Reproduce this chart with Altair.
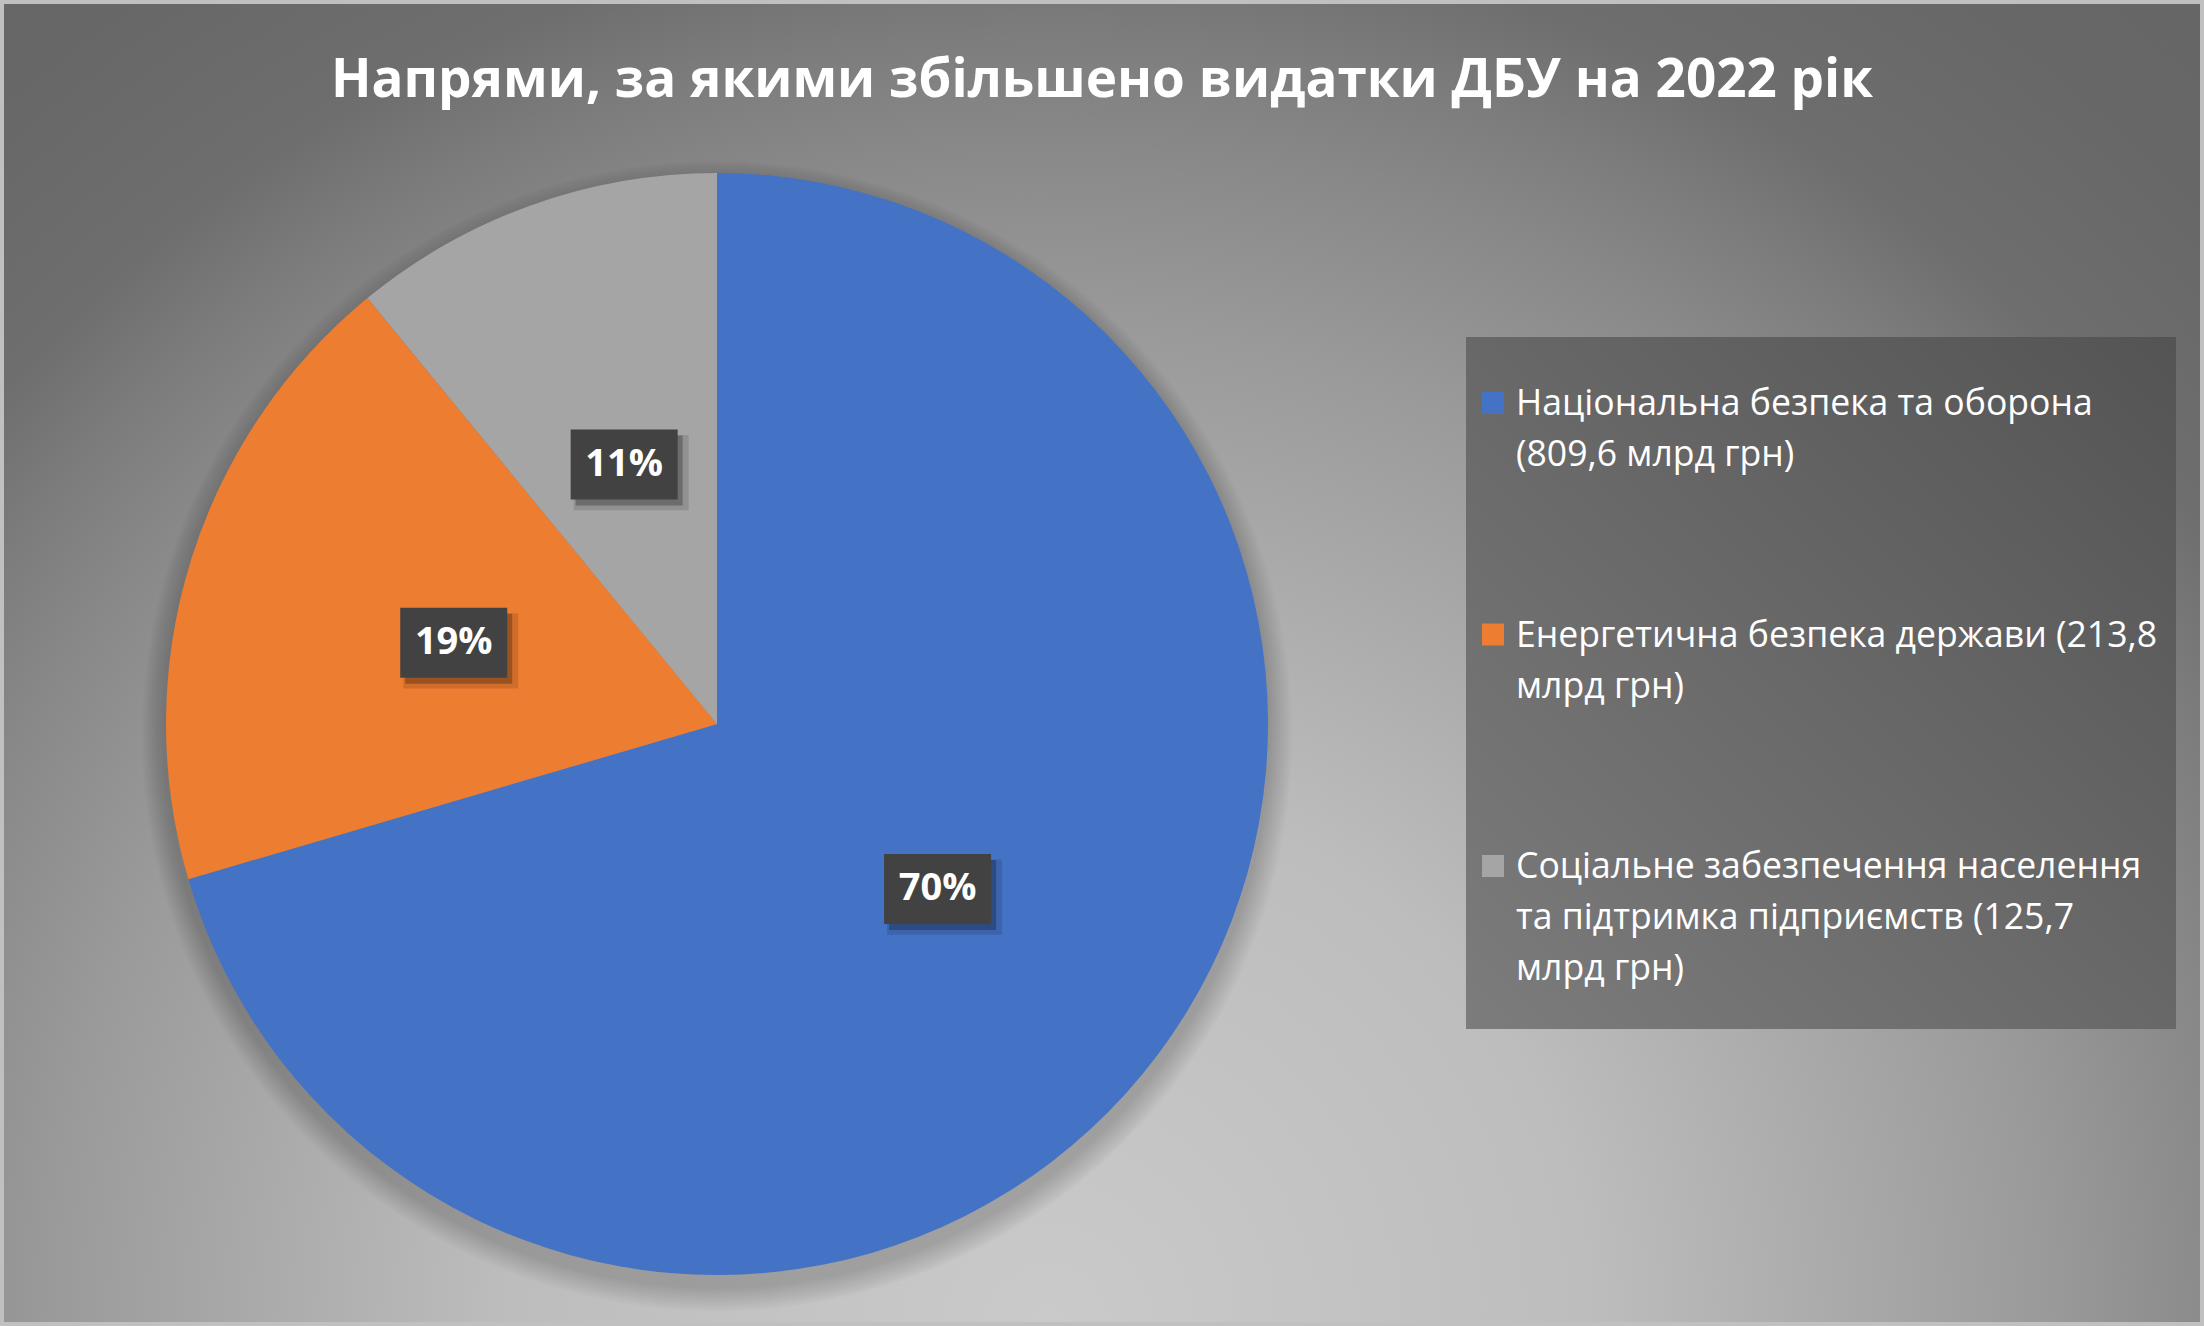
import math
import altair as alt
import pandas as pd

W, H = 2204, 1326

# ---- data ----
categories = [
    "Національна безпека та оборона",
    "Енергетична безпека держави",
    "Соціальне забезпечення населення та підтримка підприємств",
]
values = [809.6, 213.8, 125.7]
legend_labels = [
    "Національна безпека та оборона\n(809,6 млрд грн)",
    "Енергетична безпека держави (213,8\nмлрд грн)",
    "Соціальне забезпечення населення\nта підтримка підприємств (125,7\nмлрд грн)",
]
colors = ["#4472C4", "#ED7D31", "#A5A5A5"]
title_text = "Напрями, за якими збільшено видатки ДБУ на 2022 рік"

df = pd.DataFrame({
    "cat": categories,
    "value": values,
    "idx": list(range(len(categories))),
    "legend": legend_labels,
})

base = alt.Chart(df)
one = alt.Chart(pd.DataFrame({"k": [0]}))

FONT = "Open Sans"
R = 551
xs = alt.Scale(domain=[-1, 1], range=[166, 1268])
ys = alt.Scale(domain=[-1, 1], range=[1275, 173])
color_scale = alt.Scale(domain=categories, range=colors)

cx = alt.X(datum=0, type="quantitative", scale=xs, axis=None)
cy = alt.Y(datum=0, type="quantitative", scale=ys, axis=None)

# ---- background (radial gradient) ----
bg_fill = {
    "gradient": "radial",
    "x1": 0.48, "y1": 1.0, "r1": 0,
    "x2": 0.48, "y2": 1.0, "r2": 1,
    "stops": [
        {"offset": 0.0, "color": "#cacaca"},
        {"offset": 0.2, "color": "#bdbdbd"},
        {"offset": 0.25, "color": "#b3b3b3"},
        {"offset": 0.37, "color": "#9a9a9a"},
        {"offset": 0.44, "color": "#888888"},
        {"offset": 0.48, "color": "#7c7c7c"},
        {"offset": 0.52, "color": "#6e6e6e"},
        {"offset": 0.6, "color": "#676767"},
        {"offset": 1.0, "color": "#606060"},
    ],
}
bg = one.mark_rect(clip=True, fill=bg_fill).encode(
    x=alt.value(0), x2=alt.value(W), y=alt.value(H - 2700), y2=alt.value(H)
)

# ---- pie shadow (soft, offset downward) ----
shadows = []
for k in range(24, 0, -2):
    shadows.append(
        one.mark_arc(radius=R + k, theta=0, theta2=2 * math.pi, color="black",
                     opacity=0.016, yOffset=12)
        .encode(x=cx, y=cy)
    )

# ---- pie ----
pie = base.mark_arc(radius=R).encode(
    theta=alt.Theta("value:Q", stack=True),
    color=alt.Color("cat:N", scale=color_scale, legend=None),
    order=alt.Order("idx:Q"),
    x=cx,
    y=cy,
)

# ---- data labels ----
lab = (
    base.transform_joinaggregate(total="sum(value)")
    .transform_window(cum="sum(value)", sort=[alt.SortField("idx")], frame=[None, 0])
    .transform_calculate(
        mid="(datum.cum - datum.value / 2) / datum.total",
        pct="format(datum.value / datum.total * 100, '.0f') + '%'",
    )
    .transform_calculate(
        lx="0.5 * sin(2 * PI * datum.mid)",
        ly="0.5 * cos(2 * PI * datum.mid)",
    )
)
lx = alt.X("lx:Q", scale=xs, axis=None)
ly = alt.Y("ly:Q", scale=ys, axis=None)
box_path = "M-1,-0.654L1,-0.654L1,0.654L-1,0.654Z"
box_shadow2 = lab.mark_point(shape=box_path, size=115 ** 2, filled=True, color="black",
                             opacity=0.12, xOffset=7, yOffset=8).encode(x=lx, y=ly)
box_shadow = lab.mark_point(shape=box_path, size=107 ** 2, filled=True, color="black",
                            opacity=0.25, xOffset=5, yOffset=6).encode(x=lx, y=ly)
box = lab.mark_point(shape=box_path, size=107 ** 2, filled=True, color="#424242",
                     opacity=1).encode(x=lx, y=ly)
lab_text = lab.mark_text(font=FONT, fontWeight="bold", fontSize=38, color="white",
                         align="center", baseline="middle").encode(x=lx, y=ly, text="pct:N")

# ---- legend ----
leg_fill = {
    "gradient": "linear",
    "x1": 0, "y1": 1, "x2": 1, "y2": 0,
    "stops": [
        {"offset": 0.0, "color": "#7c7c7c"},
        {"offset": 1.0, "color": "#545454"},
    ],
}
leg_box = one.mark_rect(fill=leg_fill).encode(
    x=alt.value(1466), x2=alt.value(2176), y=alt.value(337), y2=alt.value(1029)
)
leg_y = alt.Y("idx:Q", scale=alt.Scale(domain=[0, 2], range=[403, 866]), axis=None)
leg_sq = base.mark_square(size=22 * 22, filled=True, opacity=1).encode(
    x=alt.value(1493), y=leg_y,
    color=alt.Color("cat:N", scale=color_scale, legend=None),
)
leg_text = base.mark_text(font=FONT, fontSize=35.6, color="white", align="left",
                          baseline="alphabetic", dy=12, lineBreak="\n",
                          lineHeight=51).encode(x=alt.value(1516), y=leg_y, text="legend:N")

# ---- title ----
title = one.mark_text(text=title_text, font=FONT, fontWeight="bold", fontSize=53,
                      color="white", align="center", baseline="alphabetic").encode(
    x=alt.value(W / 2), y=alt.value(97)
)

# ---- frame ----
frame = one.mark_rect(fillOpacity=0, stroke="#c0c0c0", strokeWidth=4).encode(
    x=alt.value(2), x2=alt.value(W - 2), y=alt.value(2), y2=alt.value(H - 2)
)

chart = (
    alt.layer(bg, *shadows, pie, box_shadow2, box_shadow, box, lab_text,
              leg_box, leg_sq, leg_text, title, frame)
    .resolve_scale(y="independent")
    .properties(width=W, height=H, autosize=alt.AutoSizeParams(type="none"), padding=0,
                background="#777777")
    .configure_view(strokeWidth=0)
)

chart.save("out.html", embed_options={"renderer": "svg", "actions": False})
